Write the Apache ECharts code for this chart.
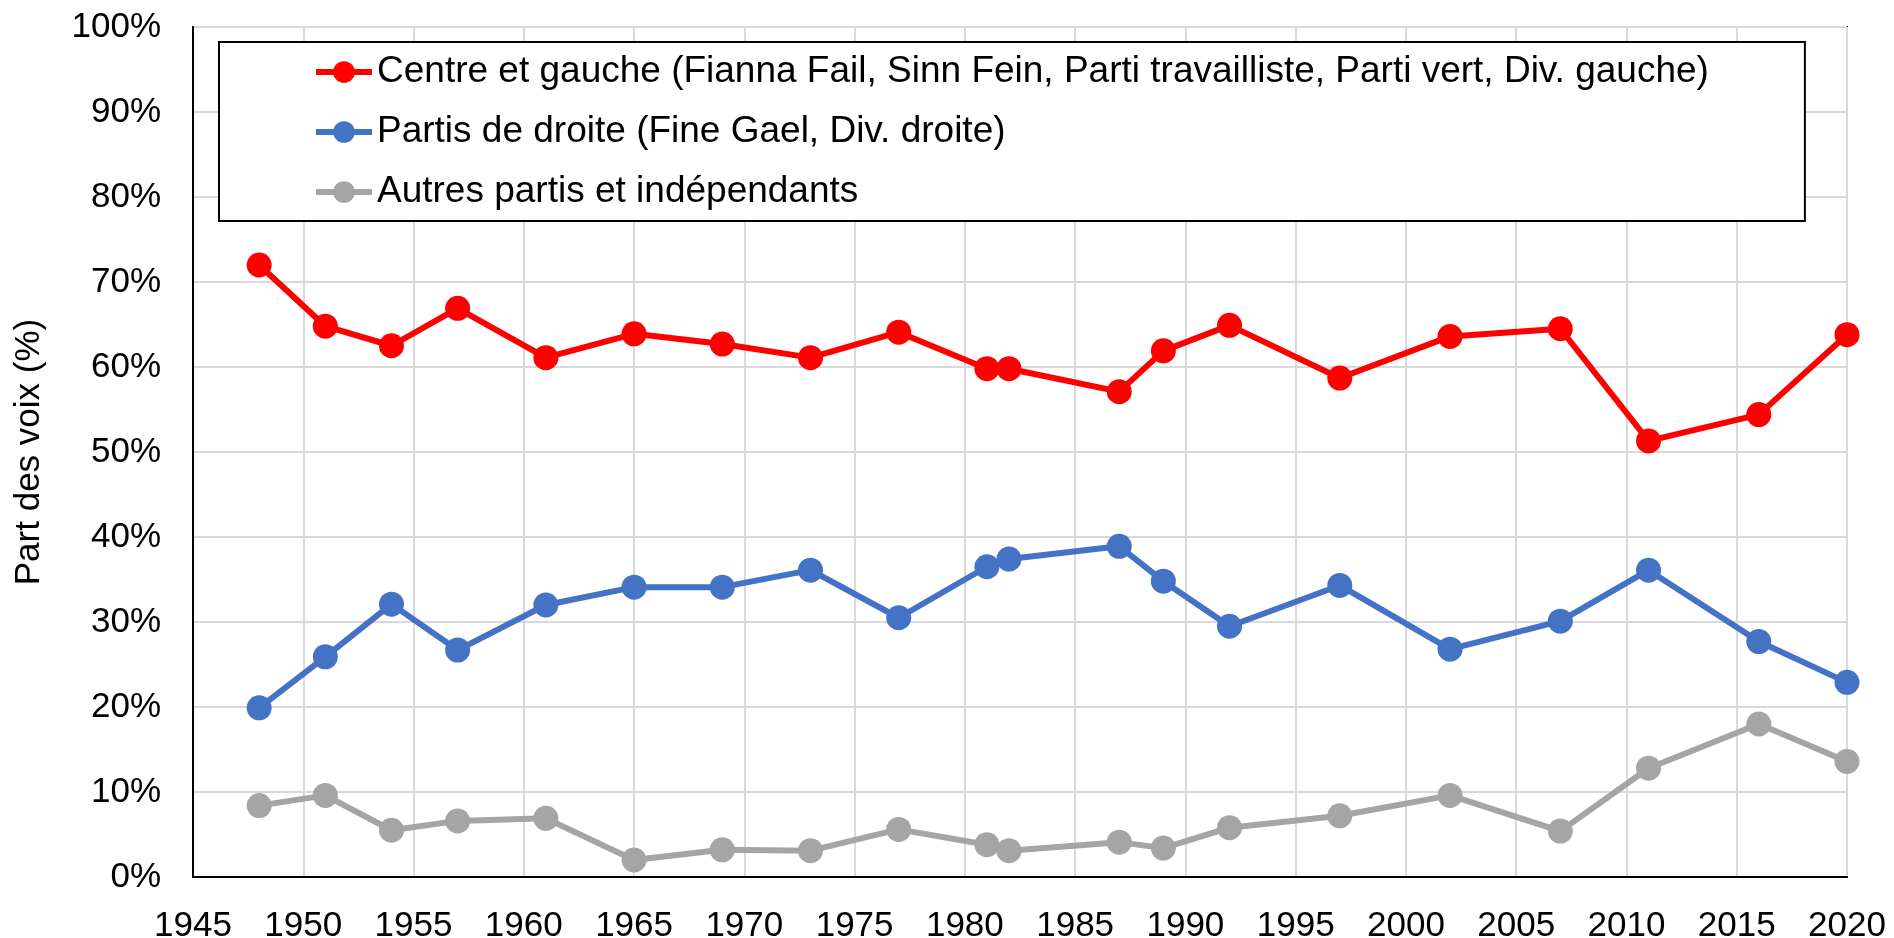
<!DOCTYPE html>
<html>
<head>
<meta charset="utf-8">
<script src="https://cdn.jsdelivr.net/npm/echarts@6/dist/echarts.min.js"></script>
<style>
  html, body { margin: 0; padding: 0; background: #fff; }
  #chart { width: 1894px; height: 938px; }
</style>
</head>
<body>
<div id="chart"></div>
<script>
// années des élections
const years = [1948, 1951, 1954, 1957, 1961, 1965, 1969, 1973, 1977, 1981, 1982, 1987, 1989, 1992, 1997, 2002, 2007, 2011, 2016, 2020];
// part des voix (%)
const centreGauche = [72.0, 64.8, 62.5, 66.9, 61.1, 63.9, 62.7, 61.1, 64.1, 59.8, 59.8, 57.1, 61.9, 64.9, 58.7, 63.6, 64.5, 51.3, 54.4, 63.8];
const droite = [19.9, 25.9, 32.1, 26.7, 32.0, 34.1, 34.1, 36.1, 30.5, 36.5, 37.4, 38.9, 34.8, 29.5, 34.3, 26.8, 30.1, 36.1, 27.7, 22.9];
const autres = [8.4, 9.6, 5.5, 6.6, 6.9, 2.0, 3.2, 3.1, 5.6, 3.8, 3.1, 4.1, 3.4, 5.8, 7.2, 9.6, 5.4, 12.8, 18.0, 13.6];

const seriesNames = [
  "Centre et gauche (Fianna Fail, Sinn Fein, Parti travailliste, Parti vert, Div. gauche)",
  "Partis de droite (Fine Gael, Div. droite)",
  "Autres partis et indépendants"
];
const colors = ["#ff0000", "#4472c4", "#a5a5a5"];

const font = "'Liberation Sans', Arial, sans-serif";
const chart = echarts.init(document.getElementById("chart"));

function toPoints(values) {
  return years.map((y, i) => [y, values[i]]);
}

function lineSeries(name, values, color) {
  return {
    name: name,
    type: "line",
    data: toPoints(values),
    symbol: "circle",
    symbolSize: 25,
    itemStyle: { color: color },
    lineStyle: { color: color, width: 6 },
    emphasis: { disabled: true },
    animation: false
  };
}

const option = {
  backgroundColor: "#fff",
  textStyle: { fontFamily: font },
  grid: {
    left: 193,
    right: 47,
    top: 27,
    bottom: 61,
    show: true,
    borderColor: "#000",
    borderWidth: 2,
    containLabel: false,
    outerBoundsMode: "none"
  },
  legend: {
    orient: "vertical",
    left: 219,
    top: 42,
    padding: [10, 96, 9, 94],
    itemGap: 20,
    itemWidth: 56,
    itemHeight: 27,
    borderColor: "#000",
    borderWidth: 2,
    backgroundColor: "#fff",
    lineStyle: { width: 6 },
    textStyle: { fontFamily: font, fontSize: 37, color: "#000", lineHeight: 40 },
    data: seriesNames
  },
  xAxis: {
    type: "value",
    min: 1945,
    max: 2020,
    interval: 5,
    axisLine: { show: true, lineStyle: { color: "#000", width: 2 } },
    axisTick: { show: false },
    axisLabel: {
      color: "#000",
      fontSize: 35,
      fontFamily: font,
      margin: 32,
      formatter: (v) => String(v)
    },
    splitLine: { show: true, lineStyle: { color: "#d9d9d9", width: 2 } }
  },
  yAxis: {
    type: "value",
    min: 0,
    max: 100,
    interval: 10,
    name: "Part des voix (%)",
    nameLocation: "middle",
    nameGap: 146,
    nameTextStyle: { color: "#000", fontSize: 35, fontFamily: font },
    axisLine: { show: true, lineStyle: { color: "#000", width: 2 } },
    axisTick: { show: false },
    axisLabel: {
      color: "#000",
      fontSize: 35,
      fontFamily: font,
      margin: 32,
      formatter: "{value}%"
    },
    splitLine: { show: true, lineStyle: { color: "#d9d9d9", width: 2 } }
  },
  series: [
    lineSeries(seriesNames[0], centreGauche, colors[0]),
    lineSeries(seriesNames[1], droite, colors[1]),
    lineSeries(seriesNames[2], autres, colors[2])
  ]
};

chart.setOption(option);
</script>
</body>
</html>
